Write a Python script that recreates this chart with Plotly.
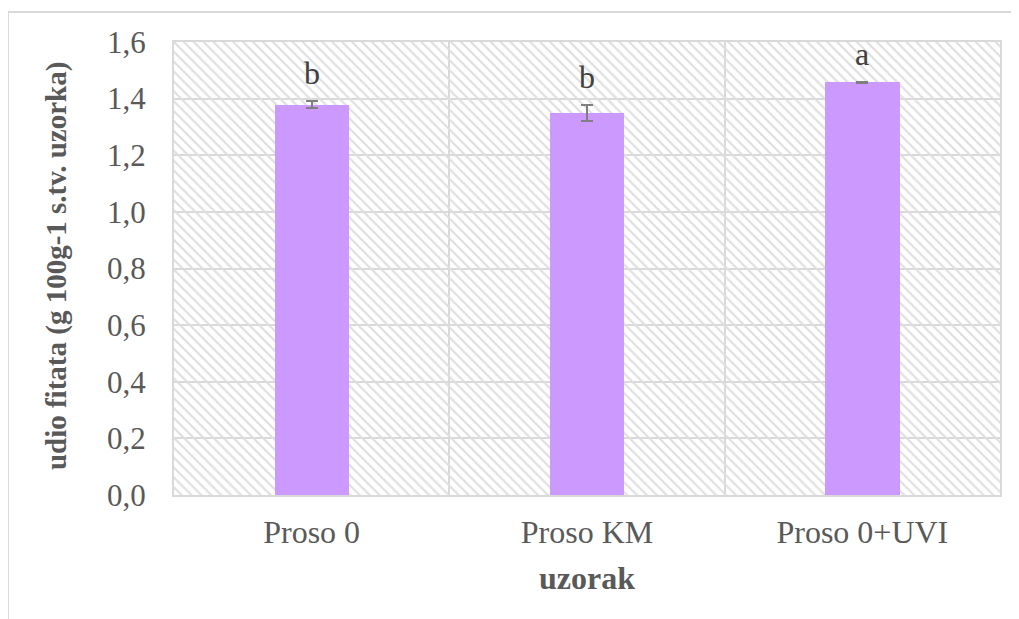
import plotly.graph_objects as go

categories = ["Proso 0", "Proso KM", "Proso 0+UVI"]
values = [1.378, 1.349, 1.457]
errors = [0.012, 0.028, 0.002]
letters = ["b", "b", "a"]
y_ticks = [0.0, 0.2, 0.4, 0.6, 0.8, 1.0, 1.2, 1.4, 1.6]
y_range = [0.0, 1.6]

FONT = "Liberation Serif"
TXT = "#595959"
GRID = "#d9d9d9"

fig = go.Figure()

# decorative hatched plot background (on hidden base axis)
fig.add_trace(go.Bar(
    x=[0.5], y=[y_range[1]], width=[1.0], xaxis="x", yaxis="y",
    marker=dict(color="rgba(0,0,0,0)", line=dict(width=0),
                pattern=dict(shape="\\", fgcolor="#dedede", bgcolor="rgba(0,0,0,0)",
                             size=7, solidity=0.3, fillmode="replace")),
    hoverinfo="skip", showlegend=False,
))

fig.add_trace(go.Bar(
    x=categories, y=values, xaxis="x2", yaxis="y",
    marker=dict(color="#cc99ff", line=dict(width=0)),
    width=0.27,
    error_y=dict(type="data", array=errors, visible=True, color="#7f7f7f",
                 thickness=2, width=6),
    showlegend=False,
))

for c, v, e, l in zip(categories, values, errors, letters):
    fig.add_annotation(x=c, y=v + e, xref="x2", yref="y", text=l, showarrow=False,
                       yanchor="bottom", yshift=8,
                       font=dict(family=FONT, size=32, color="#404040"))

fig.add_annotation(x=-0.143, y=0.505, xref="paper", yref="paper",
                   text="<b>udio fitata (g 100g-1 s.tv. uzorka)</b>", textangle=-90,
                   showarrow=False, xanchor="center", yanchor="middle",
                   font=dict(family=FONT, size=29, color=TXT))
fig.add_annotation(x=0.5, y=-0.183, xref="paper", yref="paper",
                   text="<b>uzorak</b>", showarrow=False,
                   xanchor="center", yanchor="middle",
                   font=dict(family=FONT, size=32, color=TXT))

# outer chart frame (only top and left visible in the crop)
fig.add_shape(type="line", xref="paper", yref="paper", x0=-0.201, x1=1.2,
              y0=1.0662, y1=1.0662, line=dict(color=GRID, width=2))
fig.add_shape(type="line", xref="paper", yref="paper", x0=-0.201, x1=-0.201,
              y0=1.0662, y1=-0.4, line=dict(color=GRID, width=2))

fig.update_layout(
    width=1019, height=619,
    margin=dict(l=166, r=27, t=34, b=132),
    paper_bgcolor="white", plot_bgcolor="white",
    separators=", ",
    bargap=0,
    xaxis=dict(range=[0, 1], visible=False, fixedrange=True),
    xaxis2=dict(overlaying="x", side="bottom", type="category",
                tickson="boundaries", showgrid=True, gridcolor=GRID, gridwidth=2,
                showline=True, mirror=True, linecolor=GRID, linewidth=2,
                ticks="", ticklabelstandoff=8,
                tickfont=dict(family=FONT, size=32, color=TXT)),
    yaxis=dict(range=y_range, tickvals=y_ticks, tickformat=".1f",
               showgrid=True, gridcolor=GRID, gridwidth=2,
               showline=True, mirror=True, linecolor=GRID, linewidth=2,
               ticks="", ticklabelstandoff=20, zeroline=False,
               tickfont=dict(family=FONT, size=31, color=TXT)),
)

fig.write_html("out.html")
